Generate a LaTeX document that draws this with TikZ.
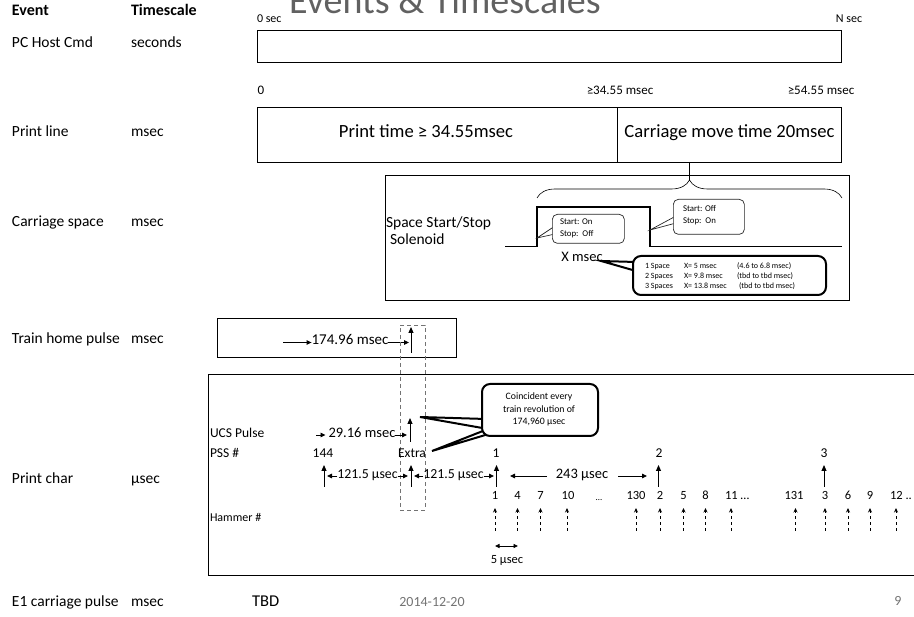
\documentclass[tikz,border=0pt]{standalone}
\usepackage{fontspec}
\setmainfont{Carlito}
\usetikzlibrary{arrows.meta,decorations.pathreplacing}
\newcommand\myfs[1]{\fontsize{#1}{#1}\selectfont}
\begin{document}
\begin{tikzpicture}[x=1pt,y=-1pt,
  txt/.style={inner sep=0pt,outer sep=0pt,text height=0.66em,text depth=0.2em},
  lft/.style={txt,anchor=west},
  ml/.style={inner sep=0pt,outer sep=0pt},
  bx/.style={draw,line width=0.9pt,inner sep=0pt,outer sep=0pt,anchor=north west},
  arr/.style={line width=0.9pt,-{Triangle[length=5pt,width=4.5pt]}},
  uparr/.style={line width=1pt,-{Triangle[length=6pt,width=5pt]}},
  harr/.style={line width=0.8pt,dash pattern=on 3pt off 3pt,-{Stealth[length=4.5pt,width=4pt]}},
  call/.style={draw=black!85,fill=white,rounded corners=5pt,line width=0.7pt,inner sep=0pt,anchor=north west},
  bigcall/.style={draw,fill=white,rounded corners=8pt,line width=2pt,inner sep=0pt,anchor=north west},
  wedge/.style={draw=black!85,fill=white,line width=0.7pt},
  bigwedge/.style={draw,fill=white,line width=2pt,line join=miter},
]
\useasboundingbox (0,0) rectangle (914,617);
\clip (0,0) rectangle (914,617);

% title
\node[anchor=base west,inner sep=0pt,text=black!62,font=\myfs{38}] (title) at (289,14) {Events \& Timescales};

% left columns
\node[lft,font=\myfs{16}\bfseries] (hEv) at (12,13) {Event};
\node[lft,font=\myfs{16}\bfseries] (hTs) at (131,13) {Timescale};
\node[lft,font=\myfs{15.5}] (e1) at (12,45) {PC Host Cmd};
\node[lft,font=\myfs{15.5}] (t1) at (131,45) {seconds};
\node[lft,font=\myfs{15.5}] (e2) at (12,134) {Print line};
\node[lft,font=\myfs{15.5}] (t2) at (131,134) {msec};
\node[lft,font=\myfs{15.5}] (e3) at (12,224) {Carriage space};
\node[lft,font=\myfs{15.5}] (t3) at (131,224) {msec};
\node[lft,font=\myfs{15.5}] (e4) at (12,341) {Train home pulse};
\node[lft,font=\myfs{15.5}] (t4) at (131,341) {msec};
\node[lft,font=\myfs{15.5}] (e5) at (12,481) {Print char};
\node[lft,font=\myfs{15.5}] (t5) at (131,481) {μsec};
\node[lft,font=\myfs{15.5}] (e6) at (12,604) {E1 carriage pulse};
\node[lft,font=\myfs{15.5}] (t6) at (131,604) {msec};
\node[lft,font=\myfs{16.5}] (tbd) at (252,604) {TBD};

% PC host box
\node[lft,font=\myfs{12}] (l0s) at (257,20) {0 sec};
\node[txt,font=\myfs{12}] (lNs) at (849,20) {N sec};
\node[bx,minimum width=584pt,minimum height=32pt] (host) at (257,30) {};

% print line
\node[txt,font=\myfs{13}] (l0) at (261,92) {0};
\node[txt,font=\myfs{13}] (l34) at (620,92) {≥34.55 msec};
\node[txt,font=\myfs{13}] (l54) at (821,92) {≥54.55 msec};
\node[bx,minimum width=360pt,minimum height=55pt] (ptime) at (257,107) {};
\node[txt,font=\myfs{18.6}] (ptimet) at (426,135) {Print time ≥ 34.55msec};
\node[bx,minimum width=224pt,minimum height=55pt] (cmove) at (617,107) {};
\node[txt,font=\myfs{18.6}] (cmovet) at (729.5,135) {Carriage move time 20msec};

% carriage space
\node[bx,minimum width=464pt,minimum height=125pt] (cbox) at (385,175) {};
\coordinate (brtop) at (689,162);
\coordinate (brtip) at (689,180);
\draw[line width=0.9pt] (brtop) -- (brtip);
\coordinate (brL) at (537,198);
\coordinate (brR) at (842,198);
\draw[line width=0.6pt,decorate,decoration={brace,amplitude=18pt}] (brL) -- (brR);
\node[lft,font=\myfs{15.5}] (sss) at (386,225) {Space Start/Stop};
\node[lft,font=\myfs{15.5}] (sol) at (390,242) {Solenoid};
\coordinate (w0) at (505,246.5);
\coordinate (w1) at (537,246.5);
\coordinate (w2) at (537,207);
\coordinate (w3) at (650,207);
\coordinate (w4) at (650,246.5);
\coordinate (w5) at (842,246.5);
\draw[line width=1.7pt] (w0) -- (w1) -- (w2) -- (w3) -- (w4) -- (w5);

% callout 1
\coordinate (c1tip) at (537,238);
\draw[wedge] (555,226) -- (c1tip) -- (555,234);
\node[call,minimum width=72pt,minimum height=29pt] (c1) at (552,214) {};
\node[ml,anchor=west,font=\myfs{8.8},align=left] (c1t) at (560,228.5) {Start: On\\[3pt]Stop:\ \ Off};
% callout 2
\coordinate (c2tip) at (650,230);
\draw[wedge] (676,216) -- (c2tip) -- (676,223);
\node[call,minimum width=71pt,minimum height=35pt] (c2) at (673,199) {};
\node[ml,anchor=west,font=\myfs{8.8},align=left] (c2t) at (683,215.5) {Start: Off\\[3pt]Stop:\ \ On};
% X msec callout
\node[txt,font=\myfs{14.5}] (xms) at (582,259) {X msec};
\coordinate (c3tip) at (601,261);
\draw[bigwedge] (636,262) -- (c3tip) -- (636,271);
\node[bigcall,minimum width=193pt,minimum height=39pt] (c3) at (632,255) {};
\begin{scope}[every node/.style={lft,font=\myfs{8}}]
\node (r1a) at (645,266) {1 Space};
\node (r1b) at (684,266) {X= 5 msec};
\node (r1c) at (737,266) {(4.6 to 6.8 msec)};
\node (r2a) at (645,276) {2 Spaces};
\node (r2b) at (684,276) {X= 9.8 msec};
\node (r2c) at (737,276) {(tbd to tbd msec)};
\node (r3a) at (645,286) {3 Spaces};
\node (r3b) at (684,286) {X= 13.8 msec};
\node (r3c) at (739,286) {(tbd to tbd msec)};
\end{scope}

% train home pulse
\node[bx,minimum width=239pt,minimum height=39pt] (tbox) at (217,318) {};
\node[txt,font=\myfs{15}] (t174) at (350,342.5) {174.96 msec};
\coordinate (ta0) at (283,342.5);
\draw[arr] (ta0) -- (t174.west);
\coordinate (ta1) at (409,342.5);
\draw[arr] (t174.east) -- (ta1);
\coordinate (tu0) at (411,353);
\coordinate (tu1) at (411,327);
\draw[uparr] (tu0) -- (tu1);

% print char box
\node[bx,minimum width=720pt,minimum height=201pt] (pbox) at (208,374) {};
\node[bx,draw=black!55,dash pattern=on 4pt off 3pt,minimum width=25pt,minimum height=185pt] (dbox) at (400,325) {};

\node[lft,font=\myfs{13.5}] (ucs) at (210,435) {UCS Pulse};
\node[lft,font=\myfs{13.5}] (pss) at (210,455) {PSS \#};
\node[lft,font=\myfs{12}] (ham) at (210,519) {Hammer \#};

% UCS pulse
\node[txt,font=\myfs{14.5}] (t29) at (362,435) {29.16 msec};
\coordinate (ua0) at (316,435);
\draw[arr] (ua0) -- ([xshift=-3pt]t29.west);
\coordinate (ua1) at (407,435);
\draw[arr] (t29.east) -- (ua1);
\coordinate (uu0) at (410,442);
\coordinate (uu1) at (410,418);
\draw[uparr] (uu0) -- (uu1);

% coincident callout
\coordinate (cc1) at (420,417);
\coordinate (cc2) at (432,451);
\draw[bigwedge] (486,419) -- (cc1) -- (488,429) -- (cc2) -- (492,433) -- cycle;
\node[bigcall,minimum width=116pt,minimum height=52pt] (cc) at (481,383) {};
\node[ml,font=\myfs{9.8},align=center] (cct) at (539,409.5) {Coincident every\\[2.5pt]train revolution of\\[2.5pt]174,960 μsec};

% PSS row
\node[txt,font=\myfs{13.5}] (p144) at (323,455) {144};
\node[txt,font=\myfs{13.5}] (pex) at (412,455) {Extra};
\node[txt,font=\myfs{13.5}] (p1) at (496,455) {1};
\node[txt,font=\myfs{13.5}] (p2) at (659,455) {2};
\node[txt,font=\myfs{13.5}] (p3) at (824,455) {3};
\foreach \x/\n in {324/a,411/b,496.5/c,658.5/d,824/e}{
  \coordinate (pu\n0) at (\x,487);
  \coordinate (pu\n1) at (\x,465);
  \draw[uparr] (pu\n0) -- (pu\n1);
}
\node[txt,font=\myfs{13.8}] (t121a) at (367.5,476) {121.5 μsec};
\coordinate (q1) at (327,476);
\draw[arr] (t121a.west) -- (q1);
\coordinate (q2) at (408,476);
\draw[arr] (t121a.east) -- (q2);
\node[txt,font=\myfs{13.8}] (t121b) at (453.5,476) {121.5 μsec};
\coordinate (q3) at (414,476);
\draw[arr] (t121b.west) -- (q3);
\coordinate (q4) at (494,476);
\draw[arr] (t121b.east) -- (q4);
\node[txt,font=\myfs{14.5}] (t243) at (582,476) {243 μsec};
\coordinate (q5) at (547,476);
\coordinate (q6) at (510,476);
\draw[arr] (q5) -- (q6);
\coordinate (q7) at (618,476);
\coordinate (q8) at (647,476);
\draw[arr] (q7) -- (q8);

% hammer row
\foreach \x/\t/\n in {495/1/h1,517.5/4/h4,540.5/7/h7,568/10/h10,636/130/h130,660/2/h2,683.5/5/h5,705.5/8/h8,794/131/h131,825/3/h3,848/6/h6,870/9/h9}{
  \node[txt,font=\myfs{12.5}] (\n) at (\x,497) {\t};
}
\node[txt,font=\myfs{9}] (hdots) at (599,498) {…};
\node[lft,font=\myfs{12.5}] (h11) at (725,497) {11 …};
\node[lft,font=\myfs{12.5}] (h12) at (890,497) {12 ..};
\foreach \x [count=\i] in {495,517.5,540.5,567,636,660,683.5,705.5,731,795.5,825,848,870,896}{
  \coordinate (ha\i) at (\x,531);
  \coordinate (hb\i) at (\x,508);
  \draw[harr] (ha\i) -- (hb\i);
}
\coordinate (d1) at (495,546);
\coordinate (d2) at (518,546);
\draw[line width=0.9pt,{Triangle[length=4.5pt,width=4pt]}-{Triangle[length=4.5pt,width=4pt]}] (d1) -- (d2);
\node[txt,font=\myfs{12.5}] (t5u) at (507,561) {5 μsec};

% footer
\node[txt,font=\myfs{14}] [text=black!55] (date) at (432,604) {2014-12-20};
\node[txt,font=\myfs{14}] [text=black!55] (pg) at (898,603) {9};
\end{tikzpicture}
\end{document}
